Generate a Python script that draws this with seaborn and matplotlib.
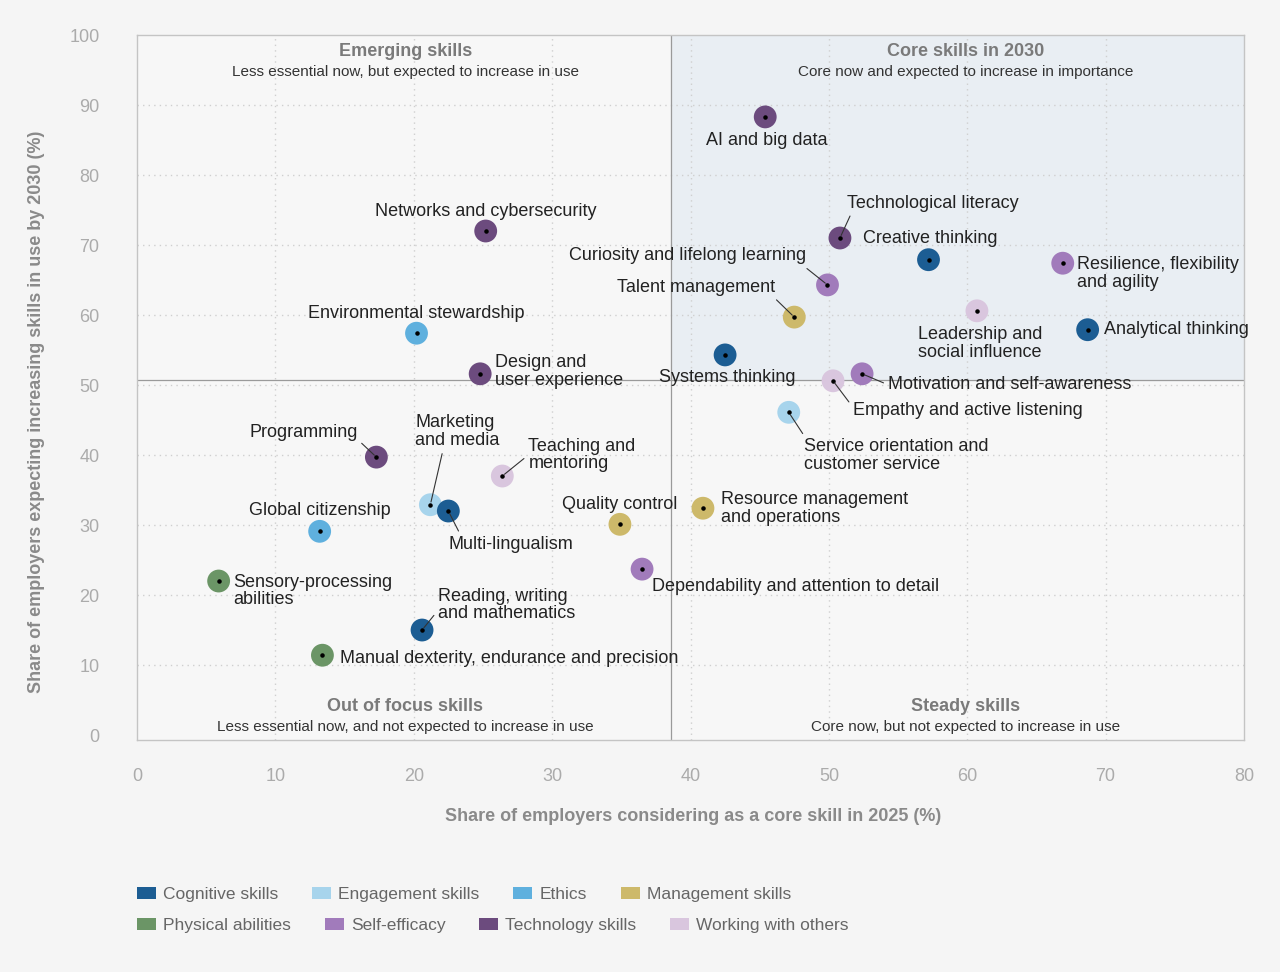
import seaborn as sns
import pandas as pd
import matplotlib.pyplot as plt
from matplotlib.patches import Patch

sns.set_theme(style="white")
plt.rcParams['font.family'] = ['Liberation Sans', 'DejaVu Sans']

# data
skills = [
    "AI and big data", "Technological literacy", "Creative thinking",
    "Resilience, flexibility\nand agility", "Curiosity and lifelong learning",
    "Talent management", "Leadership and\nsocial influence", "Analytical thinking",
    "Systems thinking", "Motivation and self-awareness", "Empathy and active listening",
    "Service orientation and\ncustomer service", "Networks and cybersecurity",
    "Environmental stewardship", "Design and\nuser experience", "Programming",
    "Marketing\nand media", "Multi-lingualism", "Teaching and\nmentoring",
    "Global citizenship", "Quality control", "Resource management\nand operations",
    "Dependability and attention to detail", "Sensory-processing\nabilities",
    "Reading, writing\nand mathematics", "Manual dexterity, endurance and precision",
]
core_2025 = [45.4, 50.8, 57.2, 66.9, 49.9, 47.5, 60.7, 68.7, 42.5, 52.4, 50.3, 47.1,
             25.2, 20.2, 24.8, 17.3, 21.2, 22.5, 26.4, 13.2, 34.9, 40.9, 36.5, 5.9,
             20.6, 13.4]
increase_2030 = [88.3, 71.0, 67.9, 67.4, 64.3, 59.7, 60.6, 57.9, 54.3, 51.6, 50.6, 46.1,
                 72.0, 57.4, 51.6, 39.7, 32.9, 32.0, 37.0, 29.1, 30.1, 32.4, 23.7, 22.0,
                 15.0, 11.4]
groups = ["Technology skills", "Technology skills", "Cognitive skills", "Self-efficacy",
          "Self-efficacy", "Management skills", "Working with others", "Cognitive skills",
          "Cognitive skills", "Self-efficacy", "Working with others", "Engagement skills",
          "Technology skills", "Ethics", "Technology skills", "Technology skills",
          "Engagement skills", "Cognitive skills", "Working with others", "Ethics",
          "Management skills", "Management skills", "Self-efficacy", "Physical abilities",
          "Cognitive skills", "Physical abilities"]

group_order = ["Cognitive skills", "Engagement skills", "Ethics", "Management skills",
               "Physical abilities", "Self-efficacy", "Technology skills", "Working with others"]
group_colors = ["#1c5d93", "#a7d4ec", "#5fb0de", "#cdb96a",
                "#6b9566", "#a17bbb", "#6c4b7e", "#d9c6de"]

x_split = 38.6
y_split = 50.7

df = pd.DataFrame({"skill": skills, "x": core_2025, "y": increase_2030, "group": groups})

# label offsets in pixels: (dx, dy, ha, leader line start on the text box)
label_pos = {
    "AI and big data": (2, -24, "center", None),
    "Technological literacy": (7, 35, "left", (0.03, 0.0)),
    "Creative thinking": (-66, 21, "left", None),
    "Resilience, flexibility\nand agility": (14, -10, "left", None),
    "Curiosity and lifelong learning": (-21, 29, "right", (0.98, 0.0)),
    "Talent management": (-19, 30, "right", (0.98, 0.0)),
    "Leadership and\nsocial influence": (-59, -33, "left", None),
    "Analytical thinking": (16, 0, "left", None),
    "Systems thinking": (2, -23, "center", None),
    "Motivation and self-awareness": (26, -11, "left", (0.0, 0.5)),
    "Empathy and active listening": (20, -30, "left", (0.0, 0.7)),
    "Service orientation and\ncustomer service": (15, -43, "left", (0.01, 1.0)),
    "Networks and cybersecurity": (0, 20, "center", None),
    "Environmental stewardship": (0, 20, "center", None),
    "Design and\nuser experience": (15, 2, "left", None),
    "Programming": (-19, 25, "right", (0.98, 0.2)),
    "Marketing\nand media": (-15, 73, "left", (0.33, 0.0)),
    "Multi-lingualism": (0, -33, "left", (0.1, 1.0)),
    "Teaching and\nmentoring": (26, 21, "left", (-0.02, 0.45)),
    "Global citizenship": (0, 21, "center", None),
    "Quality control": (0, 20, "center", None),
    "Resource management\nand operations": (18, 0, "left", None),
    "Dependability and attention to detail": (10, -17, "left", None),
    "Sensory-processing\nabilities": (15, -10, "left", None),
    "Reading, writing\nand mathematics": (16, 25, "left", (-0.01, 0.3)),
    "Manual dexterity, endurance and precision": (18, -3, "left", None),
}

fig = plt.figure(figsize=(12.8, 9.72), dpi=100, facecolor="#f5f5f5")
ax = fig.add_axes([137 / 1280, 1 - 740 / 972, 1107 / 1280, 705 / 972])
ax.set_facecolor("#f7f7f7")

ax.set_xlim(0, 80)
ax.set_ylim(-0.71, 100)
ax.fill_between([x_split, 80], y_split, 100, color="#e9eef3", zorder=0)
ax.axvline(x_split, color="#9a9a9a", lw=0.9, zorder=1)
ax.axhline(y_split, color="#9a9a9a", lw=0.9, zorder=1)

for v in range(10, 80, 10):
    ax.axvline(v, color="#cfcfcf", lw=1, ls=(0, (1, 3)), zorder=0.5)
for v in range(10, 100, 10):
    ax.axhline(v, color="#cfcfcf", lw=1, ls=(0, (1, 3)), zorder=0.5)

sns.scatterplot(data=df, x="x", y="y", hue="group", hue_order=group_order,
                palette=group_colors, s=270, edgecolor="none", legend=False,
                ax=ax, zorder=3)
ax.scatter(df["x"], df["y"], s=5, color="black", zorder=4)

for _, r in df.iterrows():
    dx, dy, ha, rel = label_pos[r["skill"]]
    arrow = None
    if rel is not None:
        arrow = dict(arrowstyle="-", color="#333333", lw=0.8, shrinkA=1, shrinkB=2,
                     relpos=rel)
    ax.annotate(r["skill"], (r["x"], r["y"]), xytext=(dx, dy), textcoords="offset pixels",
                ha=ha, va="center", fontsize=13, color="#222222", linespacing=1.05,
                zorder=5, arrowprops=arrow)

# quadrant titles
quads = [
    (19.4, 97.6, "Emerging skills", "Less essential now, but expected to increase in use"),
    (59.9, 97.6, "Core skills in 2030", "Core now and expected to increase in importance"),
    (19.4, 4.1, "Out of focus skills", "Less essential now, and not expected to increase in use"),
    (59.9, 4.1, "Steady skills", "Core now, but not expected to increase in use"),
]
for qx, qy, title, sub in quads:
    ax.text(qx, qy, title, ha="center", va="center", fontsize=13, fontweight="bold",
            color="#7a7a7a")
    ax.text(qx, qy - 2.9, sub, ha="center", va="center", fontsize=11, color="#333333")

for s in ax.spines.values():
    s.set_color("#c4c4c4")
    s.set_linewidth(1)

ax.set_xticks(range(0, 81, 10))
ax.set_yticks(range(0, 101, 10))
ax.tick_params(axis="both", length=0, labelsize=13)
ax.tick_params(axis="x", pad=20)
ax.tick_params(axis="y", pad=27)
for t in ax.get_xticklabels() + ax.get_yticklabels():
    t.set_color("#ababab")

ax.set_xlabel("Share of employers considering as a core skill in 2025 (%)", fontsize=13,
              fontweight="bold", color="#8a8a8a")
ax.set_ylabel("Share of employers expecting increasing skills in use by 2030 (%)", fontsize=13,
              fontweight="bold", color="#8a8a8a")
ax.xaxis.set_label_coords(0.502, -0.096)
ax.yaxis.set_label_coords(-0.083, 0.465)

handles = [Patch(facecolor=c, edgecolor="none", label=g) for g, c in zip(group_order, group_colors)]
for row, ypos in [(0, 1 - 880 / 972), (1, 1 - 911 / 972)]:
    leg = fig.legend(handles=handles[row * 4:(row + 1) * 4], ncol=4, loc="upper left",
                     bbox_to_anchor=(130 / 1280, ypos), frameon=False, fontsize=12.5,
                     handlelength=1.1, handleheight=0.7, handletextpad=0.4,
                     columnspacing=1.95, borderaxespad=0)
    for t in leg.get_texts():
        t.set_color("#666666")

fig.savefig("out.png", dpi=100, facecolor=fig.get_facecolor())
